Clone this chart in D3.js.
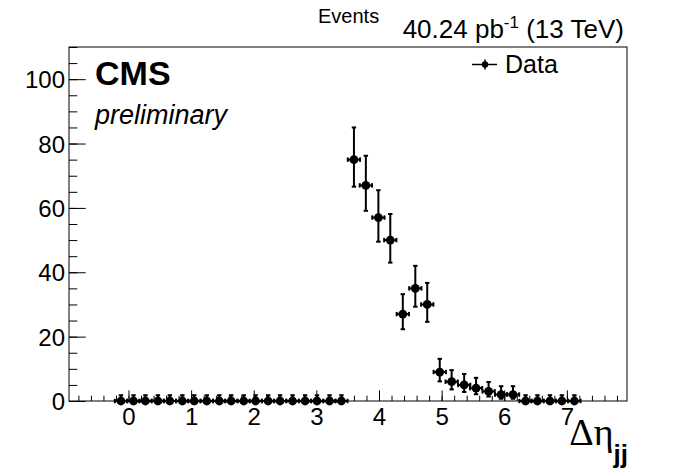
<!DOCTYPE html>
<html><head><meta charset="utf-8">
<script src="https://cdn.jsdelivr.net/npm/d3@7"></script>
<style>
html,body{margin:0;padding:0;background:#fff;}
svg text{font-family:"Liberation Sans",Arial,Helvetica,sans-serif;}
</style></head>
<body>
<svg id="c" width="696" height="472"></svg>
<script>
// Bin centres (Δη_jj) and counts
const binCenters = [-0.12,0.08,0.27,0.47,0.66,0.86,1.05,1.25,1.45,1.64,1.84,2.03,2.23,2.42,2.62,2.82,3.01,3.21,3.40,
  3.60,3.79,3.99,4.18,4.38,4.58,4.77,4.97,5.16,5.36,5.55,5.75,5.95,6.14,6.34,6.53,6.73,6.92,7.12];
const counts = [0,0,0,0,0,0,0,0,0,0,0,0,0,0,0,0,0,0,0,
  75,67,57,50,27,35,30,9,6,5,4,3,2,2,0,0,0,0,0];
const errLow = [0,0,0,0,0,0,0,0,0,0,0,0,0,0,0,0,0,0,0,
  8.4,7.9,7.5,7.0,4.7,5.7,5.4,2.9,2.4,2.2,1.9,1.6,1.3,1.3,0,0,0,0,0];
const errHigh = [1.8,1.8,1.8,1.8,1.8,1.8,1.8,1.8,1.8,1.8,1.8,1.8,1.8,1.8,1.8,1.8,1.8,1.8,1.8,
  10.0,9.2,8.5,8.1,6.2,7.0,6.7,4.1,3.6,3.4,3.2,2.9,2.6,2.6,1.8,1.8,1.8,1.8,1.8];
const binHalfWidth = 0.098;
const xTicks = [0,1,2,3,4,5,6,7];
const xMinorTicks = d3.range(-8,80,2).map(v=>v/10);
const yTicks = [0,20,40,60,80,100];
const yMinorTicks = d3.range(0,111,5);

const L=69, R=627, T=47, B=401;
const svg = d3.select("#c");
const x = d3.scaleLinear().domain([-0.95,7.96]).range([L,R]);
const y = d3.scaleLinear().domain([0,110]).range([B,T]);

// minor ticks
svg.append("g").attr("transform",`translate(${L},0)`)
  .call(d3.axisLeft(y).tickValues(yMinorTicks).tickSize(-8.3).tickFormat(""))
  .call(g=>g.select(".domain").remove());
svg.append("g").attr("transform",`translate(0,${B})`)
  .call(d3.axisBottom(x).tickValues(xMinorTicks).tickSize(-5.3).tickFormat(""))
  .call(g=>g.select(".domain").remove());
// major ticks
const ya = svg.append("g").attr("transform",`translate(${L},0)`)
  .call(d3.axisLeft(y).tickValues(yTicks).tickSize(-16.7).tickPadding(4).tickFormat(d3.format("d")));
ya.select(".domain").remove();
ya.selectAll("text").attr("font-size",24).attr("fill","#000").attr("font-family","Liberation Sans, Arial, sans-serif").attr("dy","0.36em");
const xa = svg.append("g").attr("transform",`translate(0,${B})`)
  .call(d3.axisBottom(x).tickValues(xTicks).tickSize(-10.6).tickPadding(7).tickFormat(d3.format("d")));
xa.select(".domain").remove();
xa.selectAll("text").attr("font-size",24).attr("fill","#000").attr("font-family","Liberation Sans, Arial, sans-serif");
svg.selectAll(".tick line").attr("stroke","#000").attr("stroke-width",1);

// frame
svg.append("rect").attr("x",L).attr("y",T).attr("width",R-L).attr("height",B-T)
  .attr("fill","none").attr("stroke","#000").attr("stroke-width",1);

// data points
const data = binCenters.map((c,i)=>({c, n:counts[i], lo:errLow[i], hi:errHigh[i]}));
const pts = svg.append("g");
const cap = 2.2;
data.forEach(d=>{
  const g = pts.append("g");
  const cx = x(d.c), cy = y(d.n);
  const y1 = y(d.n + d.hi), y0 = y(d.n - d.lo);
  g.append("line").attr("x1",cx).attr("x2",cx).attr("y1",y1).attr("y2",y0).attr("stroke","#000").attr("stroke-width",2);
  g.append("line").attr("x1",cx-cap).attr("x2",cx+cap).attr("y1",y1).attr("y2",y1).attr("stroke","#000").attr("stroke-width",2);
  if (d.lo>0) g.append("line").attr("x1",cx-cap).attr("x2",cx+cap).attr("y1",y0).attr("y2",y0).attr("stroke","#000").attr("stroke-width",2);
  const xl = x(d.c-binHalfWidth), xr = x(d.c+binHalfWidth);
  g.append("line").attr("x1",xl).attr("x2",xr).attr("y1",cy).attr("y2",cy).attr("stroke","#000").attr("stroke-width",2);
  g.append("line").attr("x1",xl).attr("x2",xl).attr("y1",cy-cap).attr("y2",cy+cap).attr("stroke","#000").attr("stroke-width",2);
  g.append("line").attr("x1",xr).attr("x2",xr).attr("y1",cy-cap).attr("y2",cy+cap).attr("stroke","#000").attr("stroke-width",2);
  g.append("circle").attr("cx",cx).attr("cy",cy).attr("r",4.4).attr("fill","#000");
});

// texts
svg.append("text").attr("x",95).attr("y",85).attr("font-size",34).attr("font-weight","bold").text("CMS");
svg.append("text").attr("x",95).attr("y",124).attr("font-size",27).attr("font-style","italic").text("preliminary");
svg.append("text").attr("x",318).attr("y",23).attr("font-size",20).text("Events");
const lumi = svg.append("text").attr("x",624).attr("y",38).attr("font-size",26).attr("text-anchor","end");
lumi.append("tspan").text("40.24 pb");
lumi.append("tspan").attr("font-size",17).attr("dy",-10).text("-1");
lumi.append("tspan").attr("dy",10).text(" (13 TeV)");

// legend
const lx=485, ly=64.5;
svg.append("line").attr("x1",472).attr("x2",497).attr("y1",ly).attr("y2",ly).attr("stroke","#000").attr("stroke-width",1.5);
svg.append("line").attr("x1",lx).attr("x2",lx).attr("y1",ly-5).attr("y2",ly+5).attr("stroke","#000").attr("stroke-width",1.5);
svg.append("circle").attr("cx",lx).attr("cy",ly).attr("r",3.2).attr("fill","#000");
svg.append("text").attr("x",505).attr("y",73).attr("font-size",25).text("Data");

// x-axis title
const xt = svg.append("text").attr("x",628).attr("y",445).attr("text-anchor","end");
xt.append("tspan").attr("font-family","Liberation Serif, DejaVu Serif, serif").attr("font-size",38).text("Δη");
xt.append("tspan").attr("font-size",26).attr("font-weight","bold").attr("dy",18).text("jj");
</script>
</body></html>
